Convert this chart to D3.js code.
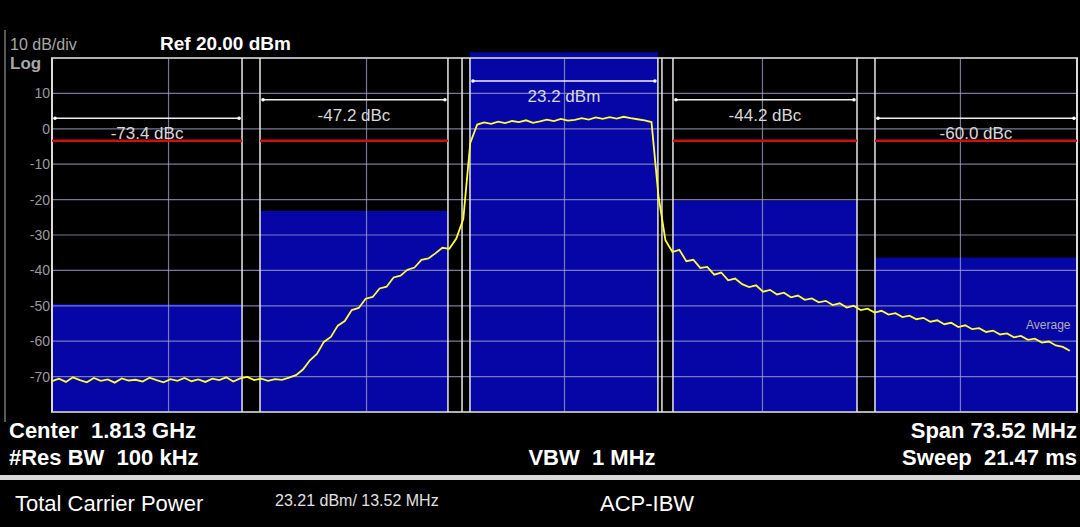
<!DOCTYPE html>
<html>
<head>
<meta charset="utf-8">
<script src="https://cdn.jsdelivr.net/npm/d3@7"></script>
<style>
  body { margin: 0; background: #000; }
  svg { display: block; }
  text { font-family: "Liberation Sans Narrow", "Liberation Sans", Arial, sans-serif; white-space: pre; }
</style>
</head>
<body>
<svg id="chart" width="1080" height="527"></svg>
<script>
// frequency offsets from center, MHz
var spanMHz = 73.52;
var freqStart = -36.76, freqStep = 0.5;

// channels: [lo, hi] MHz, measured band power (dBm on the display), label
var chanLo    = [-36.76, -21.84, -6.78, 7.78, 22.27];
var chanHi    = [-23.13, -8.36, 6.70, 20.98, 36.76];
var chanLevel = [-49.5, -23.2, 21.6, -20.3, -36.4];
var chanLabel = ['-73.4 dBc', '-47.2 dBc', '23.2 dBm', '-44.2 dBc', '-60.0 dBc'];
var bracketLevel = [3.0, 8.2, 13.5, 8.2, 3.0];
var limitLevel = -3.4;
var extraEdges = [-7.35, 6.99];
var gridFreq = [-28.4, -14.2, 0, 14.2, 28.4];
var yTicks = [10, 0, -10, -20, -30, -40, -50, -60, -70];

// trace, dBm, one value every freqStep
var trace = [
  -71.3,-70.6,-71.5,-70.2,-71.0,-71.6,-70.4,-71.2,-70.8,-71.7,-70.5,-71.1,-70.9,-71.4,-70.3,-71.0,-71.6,-70.7,-71.2,-70.4,-71.3,-70.8,-71.5,-70.6,-71.0,-70.2,-71.4,-70.5,-70.1,-71.0,-70.6,-71.2,-70.7,-70.9,-70.3,
  -69.6,-68.0,-65.4,-63.6,-60.2,-58.8,-55.6,-54.3,-51.2,-50.6,-48.0,-47.5,-45.1,-44.6,-42.0,-41.5,-39.8,-39.2,-37.0,-36.6,-35.2,-33.6,-33.9,-31.0,-25.5,-4.0,
  1.2,1.8,1.4,2.0,1.6,2.2,1.9,2.4,1.7,2.1,2.6,2.2,2.8,2.3,2.5,3.0,2.6,3.2,2.8,3.3,2.9,3.4,3.0,2.7,2.4,1.9,
  -19,-31.5,-34.8,-34.2,-37.4,-37.0,-39.3,-39.0,-41.2,-40.6,-42.8,-42.3,-43.9,-44.7,-44.2,-46.0,-45.5,-46.8,-46.3,-47.6,
  -47.1,-48.3,-47.9,-49.0,-48.6,-49.8,-49.3,-50.5,-50.0,-51.2,-50.8,-51.9,-51.4,-52.5,-52.1,-53.2,-52.8,-53.8,-53.4,-54.5,
  -54.1,-55.2,-54.8,-56.0,-55.5,-56.6,-56.3,-57.4,-57.0,-58.1,-57.8,-58.9,-58.5,-59.6,-59.3,-60.4,-60.1,-61.2,-61.6,-62.7
];

var svg = d3.select('#chart');
var L = 52, R = 1077, T = 58, B = 412;
var x = d3.scaleLinear().domain([-spanMHz / 2, spanMHz / 2]).range([L, R]);
var y = d3.scaleLinear().domain([20, -80]).range([T, B]);

svg.append('rect').attr('width', 1080).attr('height', 527).attr('fill', '#000');
svg.append('line').attr('x1', 5).attr('x2', 5).attr('y1', 30).attr('y2', 422)
  .attr('stroke', '#777').attr('stroke-width', 1.5);

// channel power bars
svg.selectAll('rect.band').data(chanLo).enter().append('rect')
  .attr('x', function (d) { return x(d); })
  .attr('width', function (d, i) { return x(chanHi[i]) - x(d); })
  .attr('y', function (d, i) { return y(chanLevel[i]); })
  .attr('height', function (d, i) { return B - y(chanLevel[i]); })
  .attr('fill', '#0606a6');

// grid
svg.selectAll('line.hg').data(d3.range(10, -80, -10)).enter().append('line')
  .attr('x1', L).attr('x2', R)
  .attr('y1', function (d) { return y(d); }).attr('y2', function (d) { return y(d); })
  .attr('stroke', '#a0a0c8').attr('stroke-opacity', 0.75).attr('stroke-width', 1.2);
svg.selectAll('line.vg').data(gridFreq).enter().append('line')
  .attr('x1', function (d) { return x(d); }).attr('x2', function (d) { return x(d); })
  .attr('y1', T).attr('y2', B)
  .attr('stroke', '#a0a0c8').attr('stroke-opacity', 0.75).attr('stroke-width', 1.2);

// border
svg.append('rect').attr('x', L).attr('y', T).attr('width', R - L).attr('height', B - T)
  .attr('fill', 'none').attr('stroke', '#b0b0b0').attr('stroke-width', 2);

// channel edges
var edges = chanLo.concat(chanHi, extraEdges);
svg.selectAll('line.edge').data(edges).enter().append('line')
  .attr('x1', function (d) { return x(d); }).attr('x2', function (d) { return x(d); })
  .attr('y1', T).attr('y2', B)
  .attr('stroke', '#e8e8e8').attr('stroke-width', 1.5);

// limit lines on offset channels
svg.selectAll('line.lim').data([0, 1, 3, 4]).enter().append('line')
  .attr('x1', function (i) { return x(chanLo[i]); }).attr('x2', function (i) { return x(chanHi[i]); })
  .attr('y1', y(limitLevel)).attr('y2', y(limitLevel))
  .attr('stroke', '#d01010').attr('stroke-width', 2.5);

// brackets + labels
chanLo.forEach(function (lo, i) {
  var hi = chanHi[i], yy = y(bracketLevel[i]);
  svg.append('line').attr('x1', x(lo) + 3).attr('x2', x(hi) - 3).attr('y1', yy).attr('y2', yy)
    .attr('stroke', '#f0f0f0').attr('stroke-width', 1.5);
  [lo, hi].forEach(function (f) {
    svg.append('circle').attr('cx', x(f) + (f === lo ? 3 : -3)).attr('cy', yy).attr('r', 1.8).attr('fill', '#fff');
  });
  svg.append('text').attr('x', (x(lo) + x(hi)) / 2).attr('y', yy + 21)
    .attr('text-anchor', 'middle').attr('fill', '#d8d8d8').attr('font-size', 17)
    .text(chanLabel[i]);
});

// trace
var line = d3.line()
  .x(function (d, i) { return x(freqStart + i * freqStep); })
  .y(function (d) { return y(d); });
svg.append('path').datum(trace).attr('d', line)
  .attr('fill', 'none').attr('stroke', '#ffff3a').attr('stroke-width', 1.8);

// y labels
svg.selectAll('text.yt').data(yTicks).enter().append('text')
  .attr('x', L - 2).attr('y', function (d) { return y(d) + 5; })
  .attr('text-anchor', 'end').attr('fill', '#9a9a9a').attr('font-size', 14)
  .text(function (d) { return d; });

function txt(s, tx, ty, size, col, anchor, weight) {
  svg.append('text').attr('x', tx).attr('y', ty).attr('font-size', size)
    .attr('fill', col).attr('text-anchor', anchor || 'start')
    .attr('font-weight', weight || 'normal').text(s);
}
txt('10 dB/div', 10, 50, 16, '#a8a8a8');
txt('Log', 10, 69, 17, '#a8a8a8', 'start', 'bold');
txt('Ref 20.00 dBm', 160, 50, 19, '#fff', 'start', 'bold');
txt('Average', 1026, 329, 12, '#b0b0b0');
txt('Center  1.813 GHz', 9, 438, 22, '#fff', 'start', 'bold');
txt('#Res BW  100 kHz', 9, 465, 22, '#fff', 'start', 'bold');
txt('VBW  1 MHz', 592, 465, 22, '#fff', 'middle', 'bold');
txt('Span 73.52 MHz', 1077, 438, 22, '#fff', 'end', 'bold');
txt('Sweep  21.47 ms', 1077, 465, 22, '#fff', 'end', 'bold');
svg.append('rect').attr('x', 0).attr('y', 475).attr('width', 1080).attr('height', 5).attr('fill', '#d8d8d8');
txt('Total Carrier Power', 15, 511, 22, '#fff');
txt('23.21 dBm/ 13.52 MHz', 275, 506, 16, '#e0e0e0');
txt('ACP-IBW', 600, 511, 22, '#fff');
</script>
</body>
</html>
